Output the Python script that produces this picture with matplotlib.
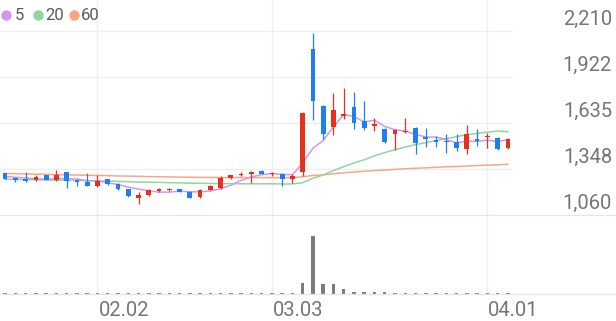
import matplotlib
matplotlib.use("Agg")
import matplotlib.pyplot as plt
import matplotlib.transforms as mtransforms
from matplotlib.lines import Line2D

# canvas size in pixels (dpi 100)
W, H = 616, 321

# daily candles
opens = [1320, 1293, 1287, 1281, 1310, 1279, 1327, 1279, 1264, 1243,
         1283, 1254, 1220, 1168, 1185, 1212, 1216, 1220, 1206, 1171,
         1216, 1229, 1289, 1308, 1314, 1337, 1316, 1316, 1285, 1331,
         2098, 1740, 1612, 1681, 1733, 1648, 1618, 1600, 1564, 1579,
         1602, 1548, 1529, 1525, 1518, 1475, 1537, 1548, 1541, 1477]
highs = [1325, 1299, 1329, 1308, 1312, 1341, 1331, 1282, 1324, 1310,
         1287, 1258, 1222, 1206, 1224, 1229, 1229, 1222, 1208, 1220,
         1246, 1304, 1312, 1331, 1337, 1339, 1331, 1321, 1314, 1702,
         2196, 1748, 1825, 1852, 1831, 1773, 1664, 1606, 1596, 1664,
         1608, 1602, 1554, 1566, 1566, 1623, 1596, 1571, 1548, 1541]
lows = [1283, 1268, 1266, 1273, 1277, 1273, 1227, 1240, 1241, 1233,
        1250, 1218, 1172, 1127, 1177, 1202, 1208, 1202, 1166, 1166,
        1214, 1224, 1287, 1306, 1258, 1314, 1306, 1241, 1258, 1306,
        1654, 1533, 1560, 1660, 1596, 1593, 1585, 1508, 1466, 1571,
        1441, 1487, 1487, 1450, 1462, 1441, 1491, 1477, 1468, 1473]
closes = [1287, 1279, 1271, 1297, 1281, 1310, 1273, 1264, 1243, 1273,
          1254, 1222, 1176, 1185, 1216, 1218, 1220, 1204, 1168, 1216,
          1243, 1291, 1310, 1318, 1326, 1316, 1324, 1285, 1306, 1696,
          1773, 1568, 1714, 1690, 1633, 1602, 1627, 1514, 1589, 1587,
          1508, 1537, 1516, 1514, 1477, 1568, 1525, 1554, 1473, 1537]
# volume in thousands of shares
volumes = [60, 50, 70, 50, 60, 70, 90, 70, 60, 100,
           60, 50, 60, 70, 50, 50, 40, 40, 60, 50,
           50, 70, 60, 50, 60, 40, 50, 50, 60, 1100,
           5780, 930, 930, 470, 200, 200, 130, 170, 90, 80,
           70, 60, 70, 60, 70, 100, 70, 60, 50, 60]

# moving averages
ma5 = [1300, 1296, 1291, 1287, 1283, 1288, 1286, 1285, 1274, 1273,
       1261, 1251, 1234, 1222, 1211, 1203, 1203, 1209, 1205, 1205,
       1210, 1224, 1246, 1276, 1298, 1312, 1319, 1314, 1311, 1385,
       1477, 1526, 1611, 1688, 1676, 1641, 1653, 1613, 1593, 1584,
       1565, 1547, 1547, 1532, 1510, 1522, 1520, 1528, 1519, 1531]
ma20 = [1283, 1282, 1281, 1280, 1279, 1278, 1277, 1276, 1275, 1274,
        1272, 1270, 1268, 1266, 1265, 1264, 1262, 1261, 1259, 1258,
        1257, 1256, 1256, 1255, 1255, 1255, 1255, 1254, 1254, 1262,
        1290, 1310, 1338, 1362, 1385, 1405, 1430, 1450, 1468, 1485,
        1500, 1512, 1525, 1538, 1550, 1562, 1570, 1578, 1585, 1580]
ma60 = [1320, 1318, 1317, 1315, 1314, 1312, 1311, 1310, 1308, 1307,
        1306, 1304, 1303, 1302, 1300, 1299, 1298, 1297, 1296, 1295,
        1295, 1294, 1294, 1294, 1294, 1294, 1293, 1293, 1293, 1299,
        1307, 1311, 1318, 1324, 1329, 1333, 1338, 1341, 1345, 1349,
        1352, 1355, 1358, 1361, 1363, 1366, 1369, 1372, 1374, 1377]

price_ticks = [1060, 1347.5, 1635, 1922.5, 2210]
price_tick_labels = ["1,060", "1,348", "1,635", "1,922", "2,210"]
date_tick_idx = [9, 26, 47]
date_tick_labels = ["02.02", "03.03", "04.01"]

UP = "#e8301c"
DOWN = "#1f7ff0"
MA_COLORS = {"5": "#d296f0", "20": "#8fd6a0", "60": "#f7a883"}
GRID = "#efefef"
TEXT = "#757575"

plt.rcParams["font.family"] = ["Roboto", "DejaVu Sans"]


def fx(px):
    return px / W


def fy(py):
    return 1 - py / H


def main():
    fig = plt.figure(figsize=(W / 100, H / 100), dpi=100)
    fig.patch.set_facecolor("white")

    ax = fig.add_axes([0, fy(215), fx(513), 215 / H])
    vax = fig.add_axes([0, fy(293.5), fx(513), 78.5 / H])
    for a in (ax, vax):
        a.set_axis_off()
        a.set_xlim(-0.5, len(closes) - 0.5)
    ax.set_ylim(1060, 1060 + 215 * 6.25)
    vax.set_ylim(0, max(volumes) * 78.5 / 57.8)

    # grid
    for v in price_ticks[1:]:
        ax.axhline(v, color=GRID, lw=1, zorder=0)
    for i in date_tick_idx:
        ax.axvline(i, color=GRID, lw=1, zorder=0)
        vax.axvline(i, color=GRID, lw=1, zorder=0)

    # moving averages
    x = list(range(len(closes)))
    ax.plot(x, ma60, color=MA_COLORS["60"], lw=1.1, zorder=2)
    ax.plot(x, ma20, color=MA_COLORS["20"], lw=1.1, zorder=2)
    ax.plot(x, ma5, color=MA_COLORS["5"], lw=1.1, zorder=2)

    # candles
    for i in x:
        o, h, l, c = opens[i], highs[i], lows[i], closes[i]
        col = UP if c >= o else DOWN
        ax.vlines(i, l, h, color=col, lw=0.9, zorder=3)
        body = max(abs(c - o), 8)
        ax.bar(i, body, bottom=min(o, c), width=0.46, color=col, zorder=4)

    # volume
    vax.bar(x, volumes, width=0.34, color="#7b7b7b", zorder=3)

    # panel separators
    fig.add_artist(Line2D([0, 1], [fy(215), fy(215)], transform=fig.transFigure,
                          color="#e6e6e6", lw=1))
    fig.add_artist(Line2D([0, 1], [fy(293.5), fy(293.5)], transform=fig.transFigure,
                          color="#e6e6e6", lw=1))

    # price labels on the right, sitting above their gridline
    trans = mtransforms.blended_transform_factory(fig.transFigure, ax.transData)
    trans = mtransforms.offset_copy(trans, fig=fig, y=6.5, units="dots")
    for v, lab in zip(price_ticks, price_tick_labels):
        ax.text(fx(612), v, lab, transform=trans, ha="right", va="baseline",
                fontsize=14.5, color=TEXT)

    # date labels
    dtrans = mtransforms.blended_transform_factory(vax.transData, fig.transFigure)
    dtrans = mtransforms.offset_copy(dtrans, fig=fig, x=1, units="dots")
    for i, lab in zip(date_tick_idx, date_tick_labels):
        vax.text(i, fy(310), lab, transform=dtrans, ha="left", va="center",
                 fontsize=14.5, color=TEXT)

    # legend
    for px, tx, key in [(5.7, 15, "5"), (37.7, 45, "20"), (74, 81, "60")]:
        fig.add_artist(Line2D([fx(px)], [fy(15)], marker="o", markersize=6.5,
                              color=MA_COLORS[key], transform=fig.transFigure))
        fig.text(fx(tx), fy(15), key, ha="left", va="center", fontsize=12,
                 color="#5a5a5a")

    fig.savefig("out.png", dpi=100)


if __name__ == "__main__":
    main()
